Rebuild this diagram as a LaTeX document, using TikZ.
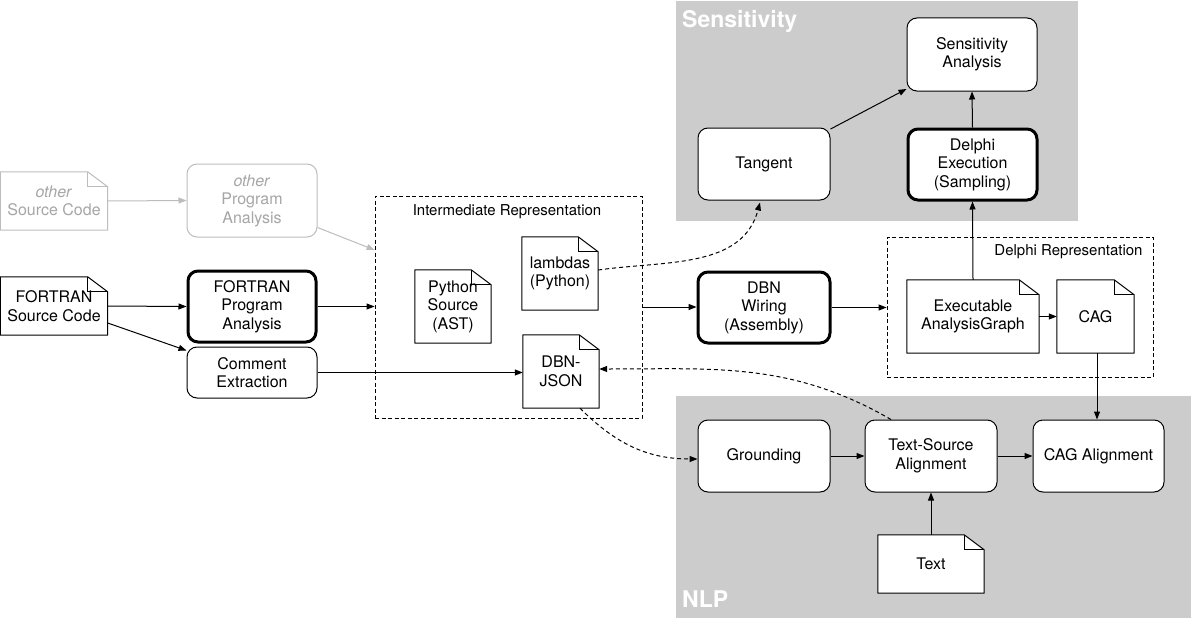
\documentclass[tikz,border=0pt]{standalone}
\usepackage{fontspec}
\setmainfont{TeX Gyre Heros}
\usetikzlibrary{arrows.meta}
\pgfdeclarelayer{docbg}
\pgfsetlayers{docbg,main}
\definecolor{panelgray}{HTML}{CCCCCC}
\definecolor{ghostline}{HTML}{BDBDBD}
\definecolor{ghosttext}{HTML}{A6A6A6}
\newcommand\boxfont{\fontsize{16}{18.5}\selectfont}
\newcommand\labfont{\fontsize{15}{18}\selectfont}
\newcommand\titlefont{\fontsize{23}{26}\selectfont\bfseries}
\newcommand\docshape[2][black]{%
  \begin{pgfonlayer}{docbg}
    \draw[#1, fill=white, line width=1pt, line join=round]
      (#2.south west) -- (#2.north west) -- ([xshift=-20pt]#2.north east)
      -- ([yshift=-15pt]#2.north east) -- (#2.south east) -- cycle;
    \draw[#1, line width=0.7pt]
      ([xshift=-20pt]#2.north east) -- ([xshift=-20pt,yshift=-15pt]#2.north east)
      -- ([yshift=-15pt]#2.north east);
  \end{pgfonlayer}}
\begin{document}
\begin{tikzpicture}[x=1pt,y=-1pt,
  box/.style={draw, rounded corners=10pt, fill=white, align=center, font=\boxfont,
    line width=1pt, inner sep=2pt},
  thickbox/.style={box, line width=3pt},
  ghostbox/.style={box, draw=ghostline, text=ghosttext},
  doc/.style={align=center, font=\boxfont, inner sep=2pt},
  container/.style={draw, line width=0.8pt, dash pattern=on 4pt off 2.5pt},
  paneltitle/.style={text=white, font=\titlefont, anchor=west, inner sep=0pt},
  lab/.style={font=\labfont, inner sep=0pt},
  arr/.style={-{Triangle[length=8pt,width=6pt]}, line width=1pt},
  darr/.style={arr, dash pattern=on 4pt off 3pt},
  garr/.style={arr, draw=ghostline, color=ghostline}
]
\useasboundingbox (0,0) rectangle (1191,618);

% background and panels
\begin{pgfonlayer}{docbg}
\fill[white] (0,0) rectangle (1191,618);
\fill[panelgray] (676,1) rectangle (1078,221);
\fill[panelgray] (676,396) rectangle (1191,618);
\end{pgfonlayer}
\node[paneltitle] (senstitle) at (682,21) {Sensitivity};
\node[paneltitle] (nlptitle) at (682,599) {NLP};

% containers
\node[container, minimum width=267pt, minimum height=222pt] (ir) at (508.5,307) {};
\node[lab] (irlab) at (507,212) {Intermediate Representation};
\node[container, minimum width=266pt, minimum height=140pt] (drep) at (1020,307) {};
\node[lab] (dreplab) at (1068.5,252) {Delphi Representation};

% left side
\node[doc, text=ghosttext, minimum width=107pt, minimum height=58pt] (osrc) at (54,201) {\textit{other}\\Source Code};
\docshape[ghostline]{osrc}
\node[ghostbox, minimum width=130pt, minimum height=73pt] (opa) at (252,200.5) {\textit{other}\\Program\\Analysis};

\node[doc, minimum width=107pt, minimum height=58pt] (fsrc) at (54,306) {FORTRAN\\Source Code};
\docshape{fsrc}
\node[thickbox, minimum width=128pt, minimum height=71pt] (fpa) at (252,306.5) {FORTRAN\\Program\\Analysis};
\node[box, minimum width=130pt, minimum height=51pt] (cext) at (252,372.5) {Comment\\Extraction};

% intermediate representation docs
\node[doc, minimum width=76pt, minimum height=73pt] (pysrc) at (453,306.5) {Python\\Source\\(AST)};
\docshape{pysrc}
\node[doc, minimum width=76pt, minimum height=73pt] (lambdas) at (560,273.5) {lambdas\\(Python)};
\docshape{lambdas}
\node[doc, minimum width=76pt, minimum height=73pt] (dbnjson) at (561,371.5) {DBN-\\JSON};
\docshape{dbnjson}

% middle
\node[thickbox, minimum width=132pt, minimum height=71pt] (dbnw) at (764,307.5) {DBN\\Wiring\\(Assembly)};

% delphi representation
\node[doc, minimum width=132pt, minimum height=73pt] (eag) at (973,316.5) {Executable\\AnalysisGraph};
\docshape{eag}
\node[doc, minimum width=77pt, minimum height=73pt] (cag) at (1095.5,316.5) {CAG};
\docshape{cag}

% sensitivity
\node[box, minimum width=130pt, minimum height=73pt] (sa) at (972,54.5) {Sensitivity\\Analysis};
\node[box, minimum width=132pt, minimum height=72pt] (tangent) at (764,164) {Tangent};
\node[thickbox, minimum width=129pt, minimum height=71pt] (dexec) at (972.5,164.5) {Delphi\\Execution\\(Sampling)};

% nlp
\node[box, minimum width=132pt, minimum height=72pt] (ground) at (764,456) {Grounding};
\node[box, minimum width=132pt, minimum height=72pt] (tsa) at (931,456) {Text-Source\\Alignment};
\node[box, minimum width=131pt, minimum height=72pt] (caga) at (1098.5,456) {CAG Alignment};
\node[doc, minimum width=106pt, minimum height=58pt] (textdoc) at (931,564) {Text};
\docshape{textdoc}

% connectors
\draw[garr] (osrc.east) -- (opa.west);
\draw[garr] ([yshift=-27pt]opa.east) -- ([yshift=57pt]ir.west);
\draw[arr] (fsrc.east) -- (fpa.west);
\draw[arr] ([yshift=-17pt]fsrc.east) -- ([yshift=-4pt]cext.north west);
\draw[arr] (fpa.east) -- (fpa.east -| ir.west);
\draw[arr] (cext.east) -- (cext.east -| dbnjson.west);
\draw[arr] (ir.east) -- (ir.east -| dbnw.west);
\draw[arr] (dbnw.east) -- (dbnw.east -| drep.west);
\draw[arr] (eag.east) -- (cag.west);
\draw[arr] (eag.north) -- (dexec.south);
\draw[arr] (dexec.north) -- (sa.south);
\draw[arr] (tangent) -- (sa);
\draw[arr] ([xshift=1.5pt]cag.south) -- ([xshift=1.5pt]cag.south |- caga.north);
\draw[arr] (textdoc.north) -- (tsa.south);
\draw[arr] (ground.east) -- (tsa.west);
\draw[arr] (tsa.east) -- (caga.west);

\draw[darr] ([yshift=3.5pt]lambdas.east) to[out=8, in=-105] ([xshift=-4pt,yshift=-2pt]tangent.south);
\draw[darr] ([xshift=19pt]dbnjson.south) to[out=-45, in=180] ([yshift=-3pt]ground.west);
\draw[darr] ([xshift=-40pt]tsa.north) to[out=150, in=0] ([yshift=2.5pt]dbnjson.east);
\end{tikzpicture}
\end{document}
